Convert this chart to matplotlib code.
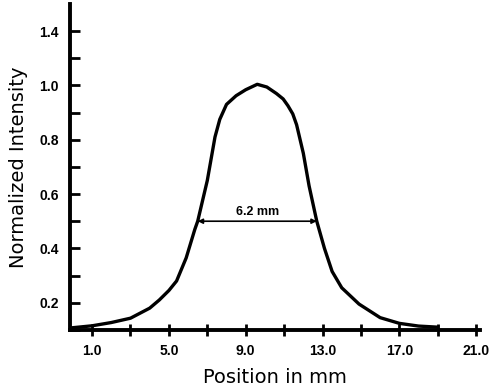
import numpy as np
import matplotlib.pyplot as plt

# profile
position = [0.0, 1.0, 2.0, 3.0, 4.0, 4.5, 5.0, 5.4, 5.9, 6.35, 6.5, 7.0, 7.4,
            7.65, 8.0, 8.5, 9.0, 9.6, 10.1, 10.6, 10.95, 11.2, 11.45, 11.65,
            12.0, 12.3, 12.7, 13.1, 13.5, 14.0, 14.9, 16.0, 17.0, 18.0, 19.0]
intensity = [0.108, 0.115, 0.127, 0.143, 0.18, 0.21, 0.245, 0.28, 0.365, 0.47,
             0.5, 0.65, 0.81, 0.875, 0.93, 0.962, 0.984, 1.004, 0.994, 0.97,
             0.95, 0.925, 0.895, 0.855, 0.75, 0.63, 0.5, 0.4, 0.315, 0.255,
             0.195, 0.145, 0.124, 0.114, 0.11]

fwhm_left, fwhm_right, half = 6.5, 12.7, 0.5
fwhm_text = '6.2 mm'

xticks = np.arange(1, 22, 2)
xlabels = ['1.0', '', '5.0', '', '9.0', '', '13.0', '', '17.0', '', '21.0']
# the original figure labels the 1.2 tick as "1.4"
yticks = np.round(np.arange(0.1, 1.21, 0.1), 1)
ylabels = ['', '0.2', '', '0.4', '', '0.6', '', '0.8', '', '1.0', '', '1.4']

fig = plt.figure(figsize=(5, 3.89), dpi=100)
ax = fig.add_axes([0.14, 0.152, 0.82, 0.838])

ax.plot(position, intensity, color='black', lw=2.4, solid_joinstyle='round')

ax.annotate('', xy=(fwhm_left, half), xytext=(fwhm_right, half),
            arrowprops=dict(arrowstyle='<|-|>', color='black', lw=1.2,
                            mutation_scale=7, shrinkA=0, shrinkB=0))
ax.text((fwhm_left + fwhm_right) / 2, half + 0.035, fwhm_text, ha='center',
        va='center', fontsize=9, fontweight='bold', family='Liberation Sans')

ax.set_xlim(-0.15, 21.2)
ax.set_ylim(0.1, 1.3)
ax.set_xticks(xticks)
ax.set_xticklabels(xlabels)
ax.set_yticks(yticks)
ax.set_yticklabels(ylabels)

for s in ['top', 'right']:
    ax.spines[s].set_visible(False)
for s in ['left', 'bottom']:
    ax.spines[s].set_linewidth(2.8)

ax.tick_params(axis='y', direction='in', length=7, width=2, pad=8)
ax.tick_params(axis='x', direction='inout', length=9, width=2, pad=6)
for lab in ax.get_xticklabels() + ax.get_yticklabels():
    lab.set_fontweight('bold')
    lab.set_fontsize(10)
    lab.set_family('Liberation Sans')

ax.set_xlabel('Position in mm', fontsize=14, labelpad=7)
ax.set_ylabel('Normalized Intensity', fontsize=14, labelpad=8)

fig.savefig('out.png', dpi=100)
